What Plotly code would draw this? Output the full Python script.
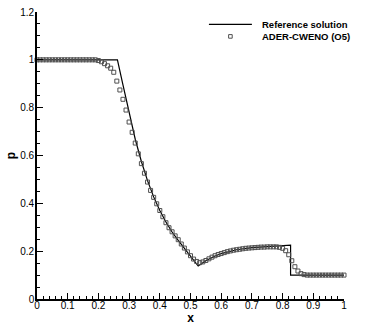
import plotly.graph_objects as go

# Reference solution (line)
ref_x = [0.0, 0.262, 0.28, 0.30, 0.32, 0.34, 0.36, 0.38, 0.40, 0.42, 0.44, 0.46,
         0.48, 0.50, 0.525, 0.55, 0.575, 0.60, 0.625, 0.65, 0.70, 0.75, 0.80,
         0.826, 0.826, 1.0]
ref_p = [1.0, 1.0, 0.895, 0.785, 0.668, 0.575, 0.495, 0.427, 0.370, 0.322, 0.280, 0.245,
         0.212, 0.179, 0.138, 0.160, 0.177, 0.190, 0.199, 0.206, 0.215, 0.220, 0.224,
         0.225, 0.100, 0.100]

# ADER-CWENO (O5) numerical solution (markers), x = 0.00 ... 1.00 step 0.01
num_x = [i / 100 for i in range(101)]
num_p = [1.0] * 20 + [
    0.997, 0.992, 0.984, 0.975, 0.965, 0.948, 0.911, 0.874, 0.835, 0.790,
    0.740, 0.697, 0.652, 0.607, 0.566, 0.526, 0.489, 0.454, 0.425, 0.398,
    0.370, 0.344, 0.319, 0.298, 0.281, 0.264, 0.248, 0.230, 0.213, 0.197,
    0.181, 0.167, 0.157, 0.152, 0.155, 0.161, 0.168, 0.175, 0.181, 0.186,
    0.190, 0.194, 0.198, 0.201, 0.204, 0.206, 0.208, 0.210, 0.212, 0.213,
    0.214, 0.215, 0.216, 0.217, 0.217, 0.218, 0.218, 0.218, 0.218, 0.216,
    0.212, 0.202, 0.185, 0.160, 0.135, 0.117, 0.106, 0.102, 0.100,
] + [0.1] * 12

x_ticks = [0, 0.1, 0.2, 0.3, 0.4, 0.5, 0.6, 0.7, 0.8, 0.9, 1]
x_labels = ["0", "0.1", "0.2", "0.3", "0.4", "0.5", "0.6", "0.7", "0.8", "0.9", "1"]
y_ticks = [0, 0.2, 0.4, 0.6, 0.8, 1.0, 1.2]
y_labels = ["0", "0.2", "0.4", "0.6", "0.8", "1", "1.2"]

series_names = ["Reference solution", "ADER-CWENO (O5)"]

FONT = "Liberation Sans, Arial, Helvetica, sans-serif"
MARKER_COLOR = "#505050"

fig = go.Figure()
fig.add_trace(go.Scatter(
    x=ref_x, y=ref_p, mode="lines", name=series_names[0],
    line=dict(color="black", width=1.2), cliponaxis=False, showlegend=False,
))
fig.add_trace(go.Scatter(
    x=num_x, y=num_p, mode="markers", name=series_names[1],
    marker=dict(symbol="square-open", size=4, color=MARKER_COLOR, line=dict(width=1)),
    cliponaxis=False, showlegend=False,
))

# Manual legend (matches the compact Tecplot-style legend)
leg_line_x0, leg_line_x1 = 0.560, 0.700
leg_text_x = 0.728
leg_y1, leg_y2 = 0.957, 0.915
fig.add_shape(type="line", xref="paper", yref="paper",
              x0=leg_line_x0, x1=leg_line_x1, y0=leg_y1, y1=leg_y1,
              line=dict(color="black", width=1.2))
fig.add_shape(type="rect", xref="paper", yref="paper",
              xsizemode="pixel", ysizemode="pixel",
              xanchor=(leg_line_x0 + leg_line_x1) / 2, yanchor=leg_y2,
              x0=-1.8, x1=1.8, y0=-1.8, y1=1.8,
              line=dict(color=MARKER_COLOR, width=1))
for name, yy in zip(series_names, [leg_y1, leg_y2]):
    fig.add_annotation(text="<b>" + name + "</b>", xref="paper", yref="paper",
                       x=leg_text_x, y=yy, xanchor="left", yanchor="middle",
                       showarrow=False, font=dict(family=FONT, size=9.5, color="black"))

axis_common = dict(
    showgrid=False, zeroline=False, showline=True, linecolor="black", linewidth=1.6,
    ticks="inside", ticklen=6, tickwidth=1.3, tickcolor="black", automargin=False,
    tickfont=dict(family=FONT, size=10, color="black"),
)

fig.update_layout(
    width=366, height=325,
    margin=dict(l=37, r=22, t=12, b=26),
    paper_bgcolor="white", plot_bgcolor="white",
    font=dict(family=FONT, size=10, color="black"),
    showlegend=False,
    xaxis=dict(
        range=[0, 1], tickvals=x_ticks, ticktext=x_labels, ticklabelstandoff=-4,
        minor=dict(dtick=0.02, ticks="inside", ticklen=3.5, tickwidth=1, tickcolor="black"),
        title=dict(text="<b>x</b>", standoff=0, font=dict(family=FONT, size=12)),
        **axis_common,
    ),
    yaxis=dict(
        range=[0, 1.2], tickvals=y_ticks, ticktext=y_labels, ticklabelstandoff=-1,
        minor=dict(dtick=0.05, ticks="inside", ticklen=3.5, tickwidth=1, tickcolor="black"),
        title=dict(text="<b>p</b>", standoff=2, font=dict(family=FONT, size=12)),
        **axis_common,
    ),
)

# Remove the default page margin so the figure fills the 366x325 window exactly.
fig.write_html("out.html", config={"displayModeBar": False},
               post_script="document.body.style.margin='0';")
